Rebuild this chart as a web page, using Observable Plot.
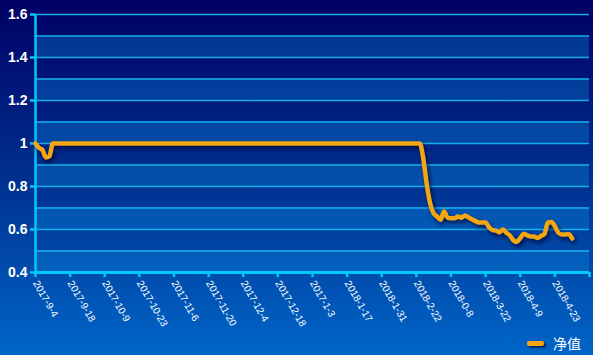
<!DOCTYPE html>
<html>
<head>
<meta charset="utf-8">
<script src="https://cdn.jsdelivr.net/npm/d3@7"></script>
<script src="https://cdn.jsdelivr.net/npm/@observablehq/plot@0.6"></script>
<style>
  html, body { margin: 0; padding: 0; }
  #wrap { width: 593px; height: 355px; position: relative; overflow: hidden;
    background: linear-gradient(to bottom, #000064 0%, #00308f 50%, #0066c8 100%);
    font-family: "Liberation Sans", Arial, sans-serif; }
  #legend { position: absolute; left: 527px; top: 333px; height: 20px; display: flex; align-items: center; }
  #legend .sw { width: 17px; height: 5px; background: #f5a511; border-radius: 2px; box-shadow: 2px 2px 2px rgba(0,0,30,0.6); }
  #legend .lb { margin-left: 9px; color: #fff; font-size: 14px; font-family: "Noto Sans CJK SC", sans-serif; }
</style>
</head>
<body>
<div id="wrap"><div id="chart"></div>
<div id="legend"><div class="sw"></div><div class="lb">净值</div></div></div>
<script>
// Trading-day index (x) and net value (y)
const dayIndex = [0,1,2,3,4,5,111,112,113,114,115,116,117,118,119,120,121,122,123,124,125,126,127,128,129,130,131,132,133,134,135,136,137,138,139,140,141,142,143,144,145,146,147,148,149,150,151,152,153,154,155];
const netValue = [1.0,0.98,0.97,0.935,0.94,1.0,1.0,0.93,0.81,0.72,0.675,0.66,0.645,0.684,0.655,0.652,0.652,0.66,0.655,0.665,0.657,0.648,0.64,0.633,0.633,0.633,0.61,0.597,0.595,0.586,0.6,0.585,0.572,0.55,0.542,0.56,0.58,0.573,0.567,0.567,0.56,0.57,0.58,0.633,0.635,0.615,0.585,0.577,0.577,0.578,0.558];
// Category axis: a tick every 10 trading days
const tickIndex = [0,10,20,30,40,50,60,70,80,90,100,110,120,130,140,150,160];
const tickLabels = ["2017-9-4","2017-9-18","2017-10-9","2017-10-23","2017-11-6","2017-11-20","2017-12-4","2017-12-18","2017-1-3","2018-1-17","2018-1-31","2018-2-22","2018-0-8","2018-3-22","2018-4-9","2018-4-23",""];
const yTicks = [0.4,0.6,0.8,1.0,1.2,1.4,1.6];
const gridVals = [0.4,0.5,0.6,0.7,0.8,0.9,1.0,1.1,1.2,1.3,1.4,1.5,1.6];
const bandLow = [0.4,0.6,0.8,1.0,1.2,1.4];

const data = dayIndex.map((d, i) => ({x: d, y: netValue[i]}));
const bands = bandLow.map(v => ({y1: v, y2: +(v + 0.1).toFixed(1)}));
const cyan = "#18bdf2";

const chart = Plot.plot({
  width: 593, height: 330,
  marginLeft: 35, marginRight: 4, marginTop: 14, marginBottom: 58,
  style: {background: "transparent", fontFamily: "'Liberation Sans', Arial, sans-serif", overflow: "visible"},
  x: {domain: [0, 160], label: null},
  y: {domain: [0.4, 1.6], label: null},
  marks: [
    Plot.rect(bands, {x1: 0, x2: 160, y1: "y1", y2: "y2", fill: "#0a8ae0", fillOpacity: 0.35}),
    Plot.ruleY(gridVals, {stroke: cyan, strokeWidth: 1.5, strokeOpacity: 0.9}),
    Plot.axisY({ticks: yTicks, tickFormat: d => String(+d.toFixed(1)), tickSize: 5, tickPadding: 3, label: null,
      stroke: "#00c8f8", strokeWidth: 2.5, fill: "white", fontSize: 14, fontWeight: "bold"}),
    Plot.axisX({ticks: tickIndex, tickFormat: d => tickLabels[tickIndex.indexOf(d)], tickRotate: 60, label: null,
      tickSize: 5, tickPadding: 4, stroke: "#00c8f8", strokeWidth: 2.5, fill: "white", fontSize: 10}),
    Plot.ruleX([0], {stroke: "#00c8f8", strokeWidth: 2.5}),
    Plot.ruleY([0.4], {stroke: "#00c8f8", strokeWidth: 3}),
    Plot.line(data, {x: "x", y: "y", stroke: "#f5a511", strokeWidth: 4.5, curve: "monotone-x"})
  ]
});
d3.select(chart).selectAll('g[aria-label="line"]').style("filter", "drop-shadow(2px 3px 2px rgba(0,0,40,0.7))");
document.getElementById("chart").appendChild(chart);
</script>
</body>
</html>
